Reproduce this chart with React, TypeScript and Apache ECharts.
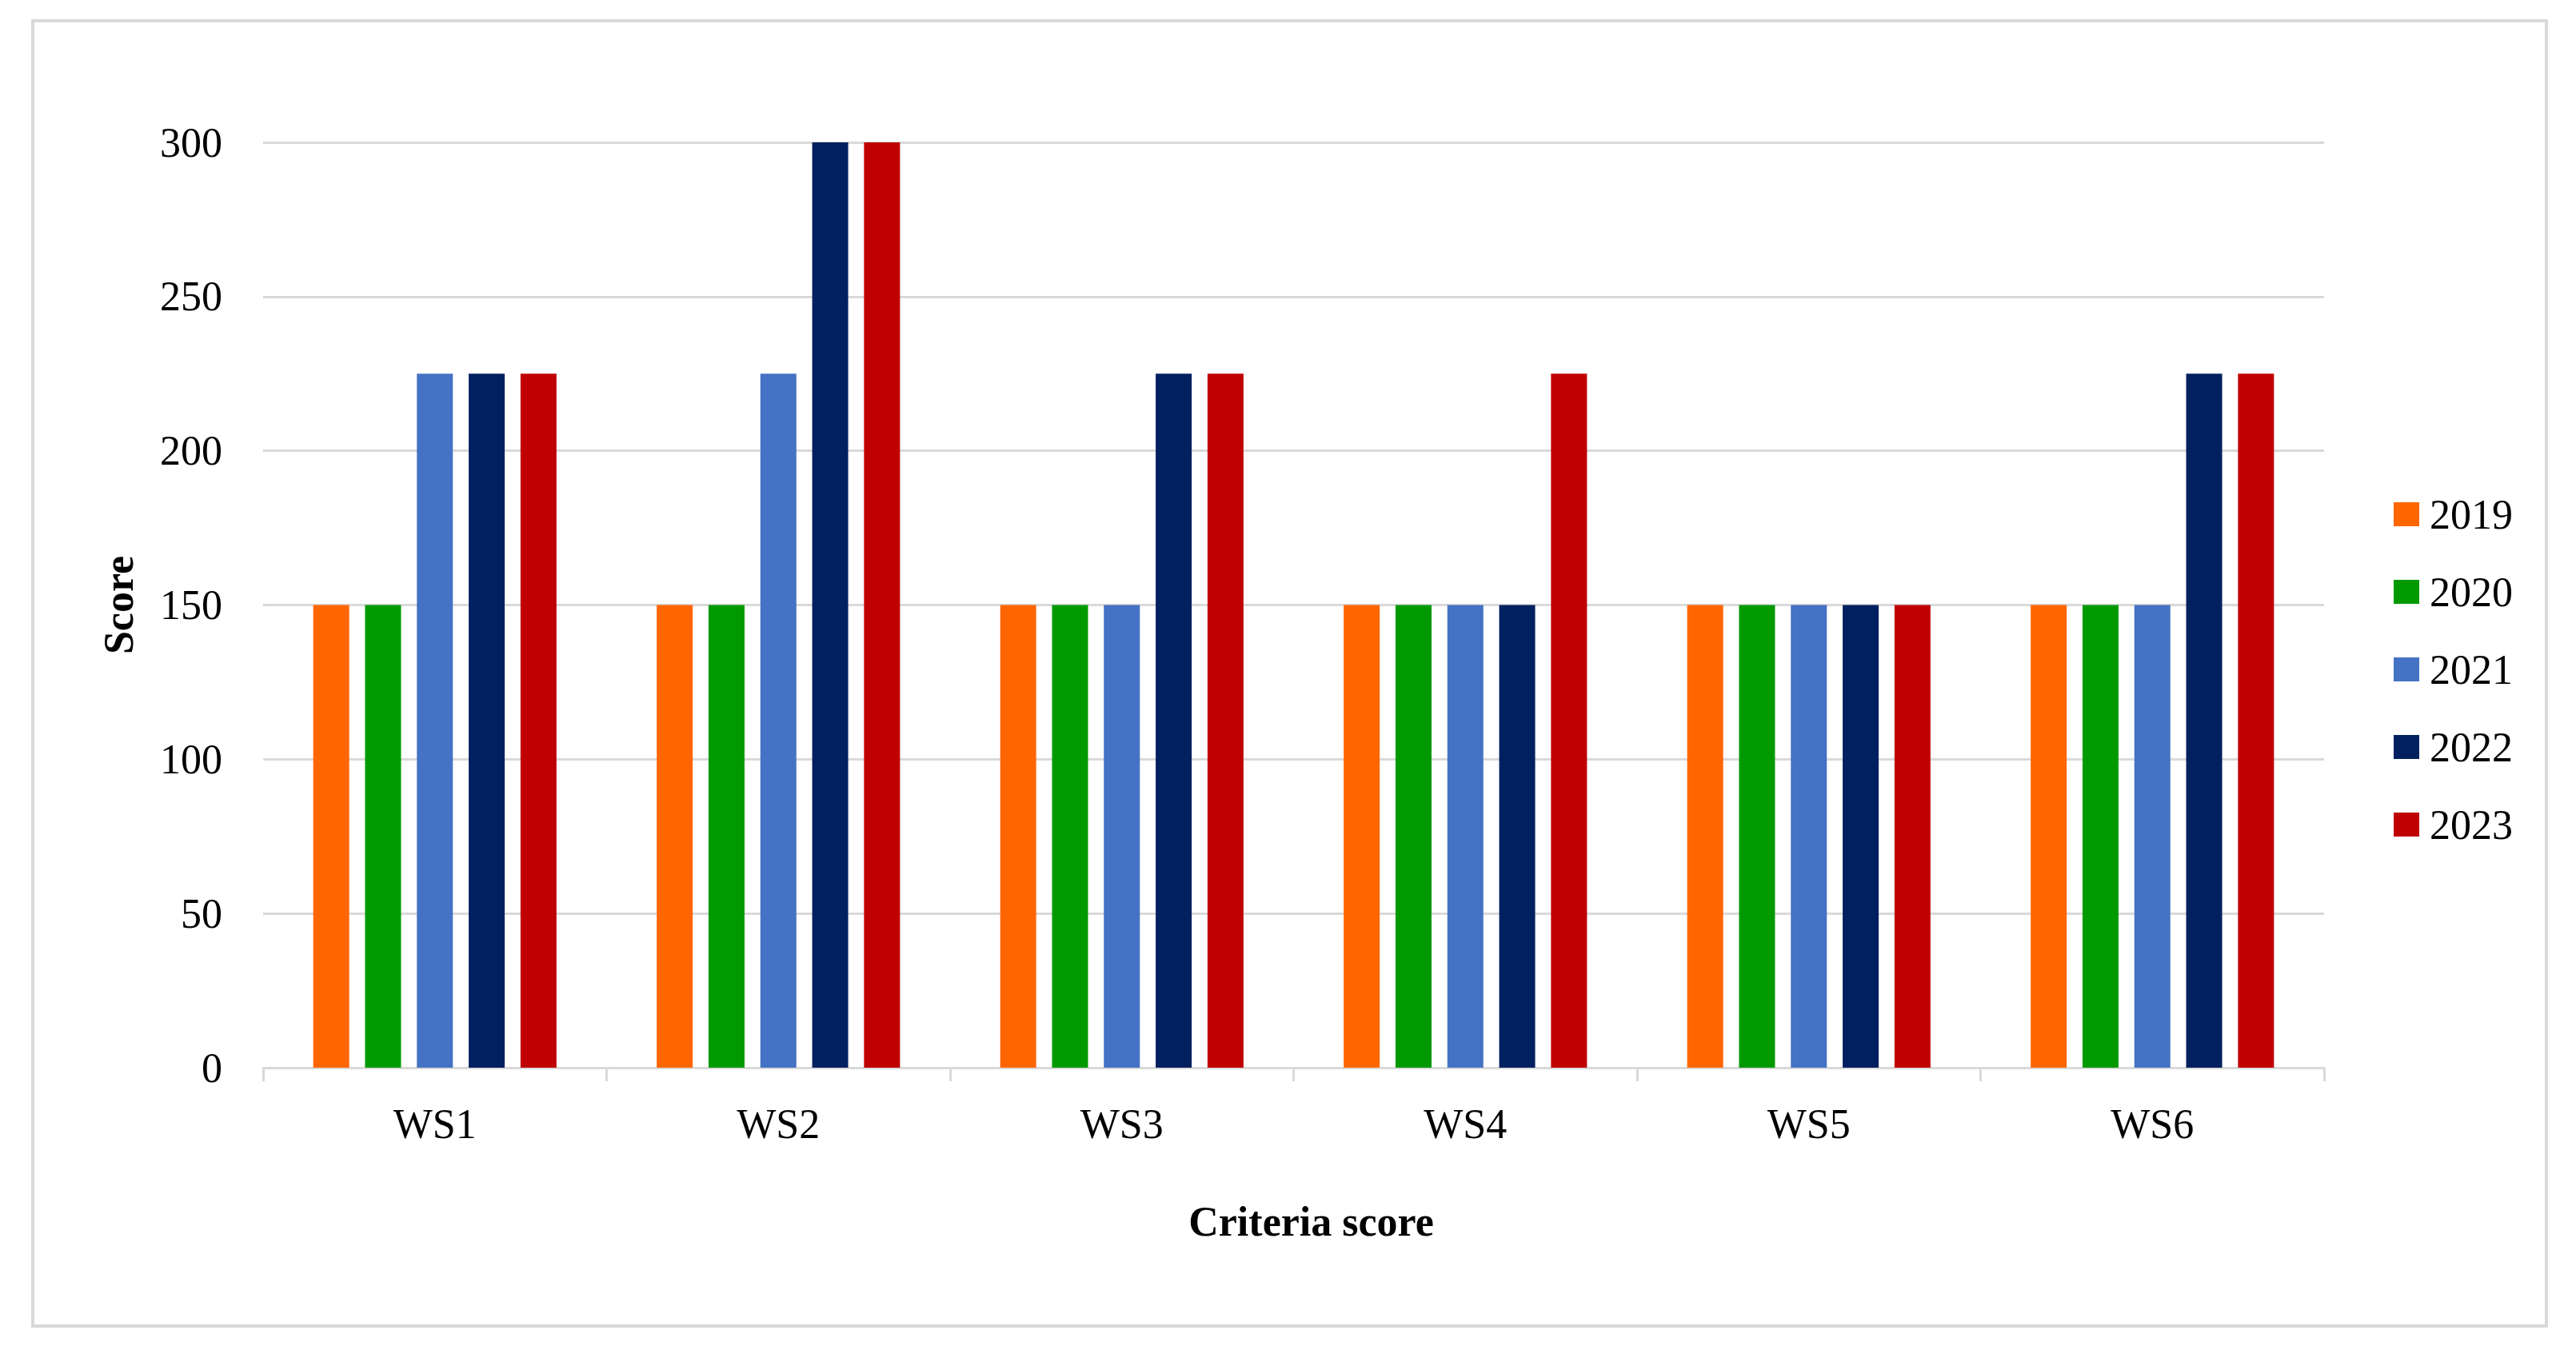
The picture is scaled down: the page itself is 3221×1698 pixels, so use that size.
import React, { useEffect, useRef } from "react";
import * as echarts from "echarts";

const categories = ["WS1", "WS2", "WS3", "WS4", "WS5", "WS6"];
const years = ["2019", "2020", "2021", "2022", "2023"];
const colors = ["#FF6600", "#009900", "#4472C4", "#002060", "#C00000"];
const s2019 = [150, 150, 150, 150, 150, 150];
const s2020 = [150, 150, 150, 150, 150, 150];
const s2021 = [225, 225, 150, 150, 150, 150];
const s2022 = [225, 300, 225, 150, 150, 225];
const s2023 = [225, 300, 225, 225, 150, 225];
const seriesValues = [s2019, s2020, s2021, s2022, s2023];
const yMin = 0;
const yMax = 300;
const yInterval = 50;

const FONT = "'Liberation Serif', 'Times New Roman', serif";

export default function App() {
  const ref = useRef<HTMLDivElement>(null);
  useEffect(() => {
    if (!ref.current) return;
    const chart = echarts.init(ref.current, undefined, { renderer: "svg" });
    chart.setOption({
      animation: false,
      backgroundColor: "#ffffff",
      textStyle: { fontFamily: FONT },
      graphic: [
        {
          type: "rect",
          shape: { x: 41, y: 26, width: 3143, height: 1632 },
          style: { fill: "none", stroke: "#D9D9D9", lineWidth: 4 },
          silent: true,
        },
      ],
      grid: { left: 329, right: 315, top: 178, bottom: 363 },
      legend: {
        orient: "vertical",
        left: 2988,
        top: 612,
        itemWidth: 32,
        itemHeight: 30,
        itemGap: 45,
        icon: "rect",
        data: years,
        textStyle: { fontFamily: FONT, fontSize: 52, color: "#000", padding: [0, 0, 0, 8] },
      },
      xAxis: {
        type: "category",
        data: categories,
        name: "Criteria score",
        nameLocation: "middle",
        nameGap: 166,
        nameTextStyle: {
          fontFamily: FONT,
          fontSize: 52,
          fontWeight: "bold",
          color: "#000",
          padding: [0, 0, 0, 44],
        },
        axisLine: { lineStyle: { color: "#D9D9D9", width: 3 } },
        axisTick: { show: true, length: 17, lineStyle: { color: "#D9D9D9", width: 3 } },
        axisLabel: { fontFamily: FONT, fontSize: 52, color: "#000", margin: 44 },
      },
      yAxis: {
        type: "value",
        min: yMin,
        max: yMax,
        interval: yInterval,
        name: "Score",
        nameLocation: "middle",
        nameGap: 155,
        nameTextStyle: { fontFamily: FONT, fontSize: 52, fontWeight: "bold", color: "#000" },
        axisLine: { show: false },
        axisTick: { show: false },
        splitLine: { lineStyle: { color: "#D9D9D9", width: 3 } },
        axisLabel: { fontFamily: FONT, fontSize: 52, color: "#000", margin: 51 },
      },
      series: years.map((y, i) => ({
        name: y,
        type: "bar",
        data: seriesValues[i],
        barWidth: 45,
        barGap: "44%",
        itemStyle: { color: colors[i] },
      })),
    });
    return () => chart.dispose();
  }, []);
  return (
    <div
      ref={ref}
      style={{ position: "fixed", left: 0, top: 0, width: 3221, height: 1698 }}
    />
  );
}
